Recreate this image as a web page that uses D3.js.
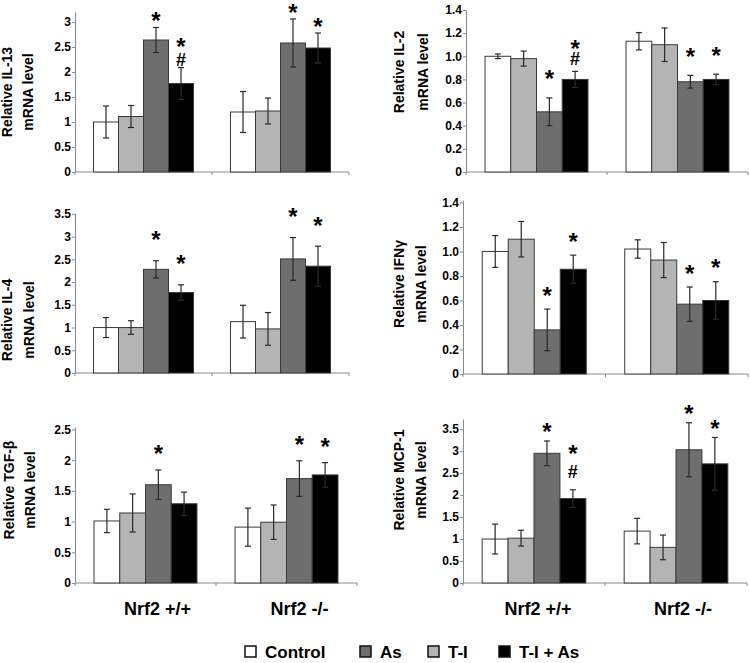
<!DOCTYPE html>
<html><head><meta charset="utf-8">
<script src="https://cdn.jsdelivr.net/npm/d3@7"></script>
<style>
body{margin:0;background:#fff}
svg{display:block}
text{font-family:"Liberation Sans", Arial, sans-serif;}
</style>
</head><body>
<svg id="chart" width="750" height="663"></svg>
<script>
// ---------- data ----------
const groups = ["Nrf2 +/+", "Nrf2 -/-"];
const treatments = ["Control", "T-I", "As", "T-I + As"];   // bar order
const legendOrder = ["Control", "As", "T-I", "T-I + As"];
const treatmentColors = ["#ffffff", "#b4b4b4", "#6e6e6e", "#000000"];

const il13Values = [[1.0, 1.11, 2.64, 1.77], [1.2, 1.22, 2.58, 2.48]];
const il13Errors = [[0.32, 0.22, 0.25, 0.32], [0.41, 0.26, 0.48, 0.30]];
const il13Marks  = [["", "", "*", "*#"], ["", "", "*", "*"]];
const il13Ticks  = [0, 0.5, 1, 1.5, 2, 2.5, 3];

const il2Values = [[1.0, 0.98, 0.52, 0.80], [1.13, 1.10, 0.78, 0.80]];
const il2Errors = [[0.02, 0.065, 0.12, 0.07], [0.075, 0.145, 0.055, 0.045]];
const il2Marks  = [["", "", "*", "*#"], ["", "", "*", "*"]];
const il2Ticks  = [0, 0.2, 0.4, 0.6, 0.8, 1.0, 1.2, 1.4];

const il4Values = [[1.0, 1.0, 2.28, 1.77], [1.13, 0.97, 2.51, 2.35]];
const il4Errors = [[0.22, 0.15, 0.19, 0.17], [0.36, 0.36, 0.47, 0.44]];
const il4Marks  = [["", "", "*", "*"], ["", "", "*", "*"]];
const il4Ticks  = [0, 0.5, 1, 1.5, 2, 2.5, 3, 3.5];

const ifnValues = [[1.0, 1.1, 0.36, 0.855], [1.02, 0.93, 0.57, 0.60]];
const ifnErrors = [[0.13, 0.145, 0.17, 0.115], [0.075, 0.143, 0.14, 0.153]];
const ifnMarks  = [["", "", "*", "*"], ["", "", "*", "*"]];
const ifnTicks  = [0, 0.2, 0.4, 0.6, 0.8, 1.0, 1.2, 1.4];

const tgfValues = [[1.01, 1.14, 1.60, 1.29], [0.91, 0.99, 1.70, 1.76]];
const tgfErrors = [[0.19, 0.31, 0.24, 0.19], [0.31, 0.28, 0.29, 0.20]];
const tgfMarks  = [["", "", "*", ""], ["", "", "*", "*"]];
const tgfTicks  = [0, 0.5, 1, 1.5, 2, 2.5];

const mcpValues = [[1.0, 1.02, 2.95, 1.92], [1.18, 0.81, 3.03, 2.71]];
const mcpErrors = [[0.34, 0.18, 0.28, 0.20], [0.29, 0.28, 0.615, 0.60]];
const mcpMarks  = [["", "", "*", "*#"], ["", "", "*", "*"]];
const mcpTicks  = [0, 0.5, 1, 1.5, 2, 2.5, 3, 3.5];

const yLabels = [
  ["Relative IL-13", "mRNA level"],
  ["Relative IL-2", "mRNA level"],
  ["Relative IL-4", "mRNA level"],
  ["Relative IFNγ", "mRNA level"],
  ["Relative TGF-β", "mRNA level"],
  ["Relative MCP-1", "mRNA level"]
];

// ---------- layout (pixels / styling only) ----------
const fmtInt = d => String(d);
const fmtDec = d => d === 0 ? "0" : d.toFixed(1);
const panels = [
  {values: il13Values, errors: il13Errors, marks: il13Marks, ticks: il13Ticks, max: 3.2, fmt: fmtInt,
   left: 75, right: 349, top: 12, bottom: 172, labelX: [7, 28], labelY: 92, lfs: 14,
   starGap: 12, hashGap: 8, hashStar: 18},
  {values: il2Values, errors: il2Errors, marks: il2Marks, ticks: il2Ticks, max: 1.4, fmt: fmtDec,
   left: 466, right: 748, top: 10, bottom: 172, labelX: [399, 423], labelY: 72, lfs: 14,
   starGap: 24, hashGap: 13, hashStar: 15},
  {values: il4Values, errors: il4Errors, marks: il4Marks, ticks: il4Ticks, max: 3.52, fmt: fmtInt,
   left: 75, right: 349, top: 213, bottom: 373, labelX: [7, 29], labelY: 320, lfs: 14,
   starGap: 26, hashGap: 13, hashStar: 18},
  {values: ifnValues, errors: ifnErrors, marks: ifnMarks, ticks: ifnTicks, max: 1.42, fmt: fmtDec,
   left: 463, right: 748, top: 200, bottom: 374, labelX: [399, 421], labelY: 284, lfs: 14,
   starGap: 19, hashGap: 13, hashStar: 18},
  {values: tgfValues, errors: tgfErrors, marks: tgfMarks, ticks: tgfTicks, max: 2.54, fmt: fmtInt,
   left: 75, right: 357, top: 427, bottom: 583, labelX: [9, 30], labelY: 490, lfs: 14,
   starGap: 21, hashGap: 13, hashStar: 18},
  {values: mcpValues, errors: mcpErrors, marks: mcpMarks, ticks: mcpTicks, max: 3.73, fmt: fmtInt,
   left: 463, right: 747, top: 419, bottom: 583, labelX: [399, 421], labelY: 480, lfs: 14,
   starGap: 14, hashGap: 18, hashStar: 23}
];

const svg = d3.select("#chart");
svg.append("rect").attr("width", 750).attr("height", 663).attr("fill", "#fff");

const axisColor = "#8a8a8a";

panels.forEach((p, pi) => {
  const g = svg.append("g");
  const x0 = d3.scaleBand().domain(groups).range([p.left, p.right]).paddingInner(0).paddingOuter(0);
  const bw = x0.bandwidth();
  const x1 = d3.scaleBand().domain(treatments).range([bw * 0.135, bw * 0.865]).padding(0);
  const y = d3.scaleLinear().domain([0, p.max]).range([p.bottom, p.top]);

  // y axis
  const ya = g.append("g").attr("transform", `translate(${p.left},0)`)
    .call(d3.axisLeft(y).tickValues(p.ticks).tickFormat(p.fmt).tickSize(3).tickPadding(1).tickSizeOuter(0));
  ya.select(".domain").attr("stroke", axisColor);
  ya.selectAll(".tick line").attr("stroke", axisColor);
  ya.selectAll(".tick text").attr("fill", "#000").attr("font-size", 12).attr("font-weight", "bold")
    .style("font-family", "'Liberation Sans', Arial, sans-serif");

  // x axis line with ticks at group boundaries
  const bounds = [p.left, ...groups.map(gr => x0(gr) + bw)];
  g.append("line").attr("x1", p.left).attr("x2", p.right).attr("y1", p.bottom).attr("y2", p.bottom)
    .attr("stroke", axisColor);
  g.selectAll(".xt").data(bounds).join("line")
    .attr("x1", d => d).attr("x2", d => d).attr("y1", p.bottom).attr("y2", p.bottom + 3)
    .attr("stroke", axisColor);

  groups.forEach((gr, gi) => {
    const gg = g.append("g").attr("transform", `translate(${x0(gr)},0)`);
    const rows = treatments.map((t, ti) => ({
      t, ti, v: p.values[gi][ti], e: p.errors[gi][ti], m: p.marks[gi][ti]
    }));
    gg.selectAll("rect.bar").data(rows).join("rect")
      .attr("class", "bar")
      .attr("x", d => x1(d.t)).attr("width", x1.bandwidth())
      .attr("y", d => y(d.v)).attr("height", d => y(0) - y(d.v))
      .attr("fill", d => treatmentColors[d.ti])
      .attr("stroke", "#3a3a3a").attr("stroke-width", 1);

    // error bars
    const eb = gg.selectAll("g.eb").data(rows).join("g").attr("class", "eb")
      .attr("stroke", "#2a2a2a").attr("stroke-width", 1.2);
    eb.append("line")
      .attr("x1", d => x1(d.t) + x1.bandwidth() / 2).attr("x2", d => x1(d.t) + x1.bandwidth() / 2)
      .attr("y1", d => y(d.v + d.e)).attr("y2", d => y(d.v - d.e));
    eb.append("line")
      .attr("x1", d => x1(d.t) + x1.bandwidth() / 2 - 3).attr("x2", d => x1(d.t) + x1.bandwidth() / 2 + 3)
      .attr("y1", d => y(d.v + d.e)).attr("y2", d => y(d.v + d.e));
    eb.append("line")
      .attr("x1", d => x1(d.t) + x1.bandwidth() / 2 - 3).attr("x2", d => x1(d.t) + x1.bandwidth() / 2 + 3)
      .attr("y1", d => y(d.v - d.e)).attr("y2", d => y(d.v - d.e));

    // significance marks (star, optionally with # below, in one text element)
    rows.filter(d => d.m).forEach(d => {
      const cx = x1(d.t) + x1.bandwidth() / 2;
      const top = y(d.v + d.e);
      const hasHash = d.m.includes("#");
      const starC = hasHash ? top - p.hashGap - p.hashStar : top - p.starGap;
      const t = gg.append("text").attr("text-anchor", "middle");
      t.append("tspan").attr("x", cx).attr("y", Math.max(starC + 13.5, 13))
        .attr("font-size", 24).attr("font-weight", "bold").text("*");
      if (hasHash) {
        t.append("tspan").attr("x", cx).attr("y", top - p.hashGap + 6.5)
          .attr("font-size", 18).attr("font-weight", "bold").text("#");
      }
    });
  });

  // y label (two lines, rotated)
  yLabels[pi].forEach((ln, li) => {
    g.append("text")
      .attr("transform", `translate(${p.labelX[li]},${p.labelY}) rotate(-90)`)
      .attr("text-anchor", "middle").attr("dominant-baseline", "central")
      .attr("font-size", p.lfs).attr("font-weight", "bold").text(ln);
  });

  // group labels under the bottom row
  if (pi >= 4) {
    const off = pi === 4 ? [12, 13] : [4, 7];
    groups.forEach((gr, gi) => {
      g.append("text").attr("x", x0(gr) + bw / 2 + off[gi]).attr("y", 615)
        .attr("text-anchor", "middle").attr("font-size", 18).attr("font-weight", "bold").text(gr);
    });
  }
});

// legend
const legendX = [245, 360, 428, 499];
const lg = svg.append("g");
legendOrder.forEach((t, i) => {
  const ci = treatments.indexOf(t);
  lg.append("rect").attr("x", legendX[i]).attr("y", 646).attr("width", 11).attr("height", 11)
    .attr("fill", treatmentColors[ci]).attr("stroke", "#111").attr("stroke-width", 1.5);
  lg.append("text").attr("x", legendX[i] + 20).attr("y", 658)
    .attr("font-size", 17).attr("font-weight", "bold").text(t);
});
</script>
</body></html>
